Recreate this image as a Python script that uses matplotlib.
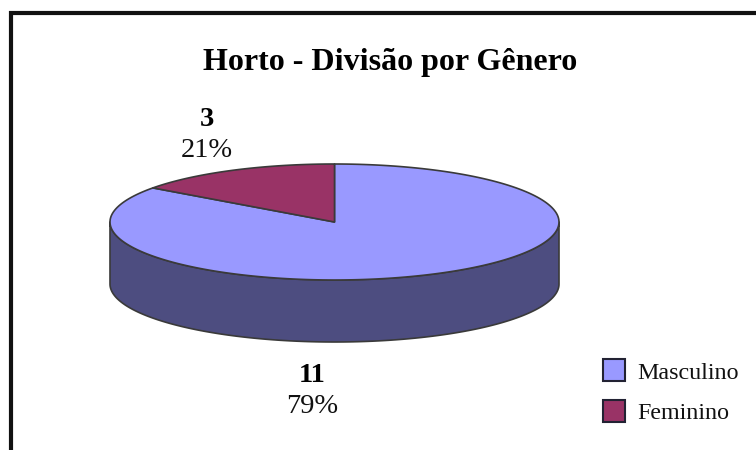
"""
Horto - Divisao por Genero: flat-looking 3D pie drawn by hand in pixel coords.
"""

import numpy as np
import matplotlib
matplotlib.use("Agg")
import matplotlib.pyplot as plt
from matplotlib.patches import Polygon, Rectangle

categories = ["Masculino", "Feminino"]
counts = [11, 3]
percents = ["79%", "21%"]
# share of the ellipse angle each slice takes in the picture (the tilt squeezes it)
drawn_shares = [0.85, 0.15]

top_colors = ["#9999ff", "#993366"]
side_color = "#4d4d80"
edge_color = "#3a3a3a"

CX, CY = 334.5, 222
RX, RY = 224.5, 58
DEPTH = 62

plt.rcParams["font.family"] = ["Liberation Serif", "DejaVu Serif"]


def ellipse_points(t0, t1, dy=0):
    t = np.radians(np.linspace(t0, t1, 200))
    return np.column_stack([CX + RX * np.cos(t), CY + dy - RY * np.sin(t)])


fig = plt.figure(figsize=(7.56, 4.5), dpi=100)
ax = fig.add_axes([0, 0, 1, 1])
ax.set_xlim(0, 756)
ax.set_ylim(450, 0)
ax.axis("off")

# side wall, only the front half shows
front = ellipse_points(180, 360)
back = ellipse_points(360, 180, DEPTH)
ax.add_patch(Polygon(np.vstack([front, back]), closed=True, fc=side_color,
                     ec=edge_color, lw=1.2, joinstyle="round"))

# top faces: start at 12 o'clock, Masculino clockwise, Feminino closes the circle
start = 90
for share, color in zip(drawn_shares, top_colors):
    end = start - share * 360
    arc = ellipse_points(start, end)
    ax.add_patch(Polygon(np.vstack([[CX, CY], arc]), closed=True, fc=color,
                         ec=edge_color, lw=1.2, joinstyle="round"))
    start = end

# chart frame: only top and left edges fall inside the crop
ax.plot([10.5, 10.5, 756], [450, 12.5, 12.5], color="#111111", lw=3,
        solid_joinstyle="miter")

ax.text(390, 70, "Horto - Divisão por Gênero", ha="center", va="baseline",
        fontsize=23, fontweight="bold", color="black")

label_x = [312.5, 207]
count_y = [382, 126]
percent_y = [413, 157]
for i in range(len(categories)):
    ax.text(label_x[i], count_y[i], str(counts[i]), ha="center", va="baseline",
            fontsize=20.5, fontweight="bold", color="black")
    ax.text(label_x[i], percent_y[i], percents[i], ha="center", va="baseline",
            fontsize=20.5, color="#111111")

legend_y = [370, 411]
text_y = [379, 419]
for i, name in enumerate(categories):
    ax.add_patch(Rectangle((603, legend_y[i] - 11), 22, 22, fc=top_colors[i],
                           ec="#222233", lw=1.5))
    ax.text(637, text_y[i], name, ha="left", va="baseline", fontsize=17.3,
            color="#111111")

fig.savefig("out.png", dpi=100)
